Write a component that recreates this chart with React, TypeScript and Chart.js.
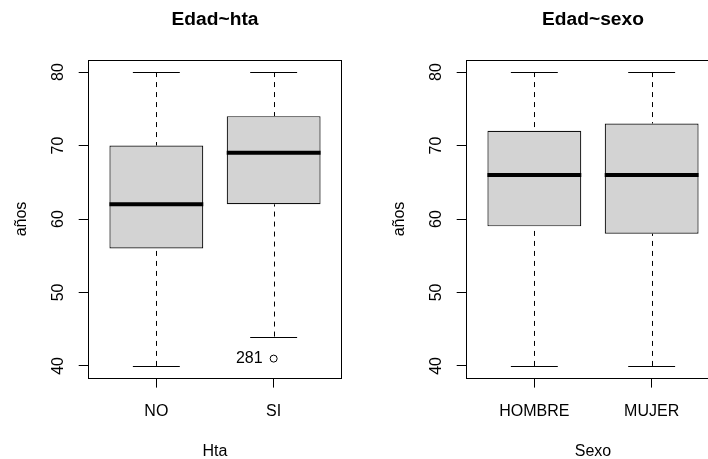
import React, { useEffect, useRef } from 'react';
import { Chart, registerables } from 'chart.js';

Chart.register(...registerables);

const FONT = '"Liberation Sans", Arial, Helvetica, sans-serif';

// ---- Data: Edad ~ hta ----
const htaCategories = ['NO', 'SI'];
const htaLowerWhisker = [40, 44];
const htaQ1 = [56, 62];
const htaMedian = [62, 69];
const htaQ3 = [70, 74];
const htaUpperWhisker = [80, 80];
const htaOutlierGroup = ['SI'];
const htaOutlierValue = [41];
const htaOutlierLabel = ['281'];

// ---- Data: Edad ~ sexo ----
const sexoCategories = ['HOMBRE', 'MUJER'];
const sexoLowerWhisker = [40, 40];
const sexoQ1 = [59, 58];
const sexoMedian = [66, 66];
const sexoQ3 = [72, 73];
const sexoUpperWhisker = [80, 80];
const sexoOutlierGroup: string[] = [];
const sexoOutlierValue: number[] = [];
const sexoOutlierLabel: string[] = [];

// ---- Axis ticks ----
const yTickValues = [40, 50, 60, 70, 80];
const yMin = 38.36;
const yMax = 81.64;

type PanelData = {
  title: string;
  xTitle: string;
  yTitle: string;
  categories: string[];
  lo: number[];
  q1: number[];
  med: number[];
  q3: number[];
  hi: number[];
  outGroup: string[];
  outValue: number[];
  outLabel: string[];
};

const panels: PanelData[] = [
  {
    title: 'Edad~hta', xTitle: 'Hta', yTitle: 'años', categories: htaCategories,
    lo: htaLowerWhisker, q1: htaQ1, med: htaMedian, q3: htaQ3, hi: htaUpperWhisker,
    outGroup: htaOutlierGroup, outValue: htaOutlierValue, outLabel: htaOutlierLabel,
  },
  {
    title: 'Edad~sexo', xTitle: 'Sexo', yTitle: 'años', categories: sexoCategories,
    lo: sexoLowerWhisker, q1: sexoQ1, med: sexoMedian, q3: sexoQ3, hi: sexoUpperWhisker,
    outGroup: sexoOutlierGroup, outValue: sexoOutlierValue, outLabel: sexoOutlierLabel,
  },
];

const BOX_HALF = 0.4;
const CAP_HALF = 0.2;
const PANEL_W = 378;
const PANEL_H = 459;

function BoxPanel({ panel, left }: { panel: PanelData; left: number }) {
  const ref = useRef<HTMLCanvasElement>(null);

  useEffect(() => {
    if (!ref.current) return;
    const n = panel.categories.length;
    const xMin = 0.5 - 0.04 * n;
    const xMax = n + 0.5 + 0.04 * n;
    const positions = panel.categories.map((_, i) => i + 1);

    const boxPlugin = {
      id: 'rBoxplot',
      afterDatasetsDraw(chart: any) {
        const { ctx, chartArea: a, scales } = chart;
        const x = scales.x;
        const y = scales.y;
        ctx.save();
        positions.forEach((p, i) => {
          const cx = Math.round(x.getPixelForValue(p)) + 0.5;
          // whiskers (dashed)
          ctx.strokeStyle = '#000';
          ctx.lineWidth = 1;
          ctx.setLineDash([5, 5]);
          ctx.beginPath();
          ctx.moveTo(cx, y.getPixelForValue(panel.lo[i]));
          ctx.lineTo(cx, y.getPixelForValue(panel.q1[i]));
          ctx.moveTo(cx, y.getPixelForValue(panel.hi[i]));
          ctx.lineTo(cx, y.getPixelForValue(panel.q3[i]));
          ctx.stroke();
          ctx.setLineDash([]);
          // caps
          const c1 = x.getPixelForValue(p - CAP_HALF);
          const c2 = x.getPixelForValue(p + CAP_HALF);
          ctx.beginPath();
          [panel.lo[i], panel.hi[i]].forEach((v) => {
            const py = Math.round(y.getPixelForValue(v)) + 0.5;
            ctx.moveTo(c1, py);
            ctx.lineTo(c2, py);
          });
          ctx.stroke();
          // median
          ctx.lineWidth = 4;
          ctx.lineCap = 'butt';
          ctx.beginPath();
          const my = y.getPixelForValue(panel.med[i]);
          ctx.moveTo(x.getPixelForValue(p - BOX_HALF), my);
          ctx.lineTo(x.getPixelForValue(p + BOX_HALF), my);
          ctx.stroke();
        });
        // outlier labels
        ctx.fillStyle = '#000';
        ctx.font = `16px ${FONT}`;
        ctx.textAlign = 'right';
        ctx.textBaseline = 'alphabetic';
        panel.outGroup.forEach((g, k) => {
          const px = x.getPixelForValue(panel.categories.indexOf(g) + 1);
          const py = y.getPixelForValue(panel.outValue[k]);
          ctx.fillText(panel.outLabel[k], px - 11, py + 4);
        });
        // frame
        ctx.lineWidth = 1;
        ctx.strokeStyle = '#000';
        ctx.strokeRect(Math.round(a.left) + 0.5, Math.round(a.top) + 0.5,
          Math.round(a.right - a.left), Math.round(a.bottom - a.top));
        // titles
        const midX = (a.left + a.right) / 2;
        const midY = (a.top + a.bottom) / 2;
        ctx.textAlign = 'center';
        ctx.font = `bold 19.2px ${FONT}`;
        ctx.fillText(panel.title, midX, a.top - 35);
        ctx.font = `16px ${FONT}`;
        ctx.fillText(panel.xTitle, midX, a.bottom + 78);
        ctx.translate(a.left - 62, midY);
        ctx.rotate(-Math.PI / 2);
        ctx.fillText(panel.yTitle, 0, 0);
        ctx.restore();
      },
    };

    const chart = new Chart(ref.current, {
      type: 'bar',
      data: {
        datasets: [
          {
            type: 'bar',
            data: positions.map((p, i) => ({ x: p, y: [panel.q1[i], panel.q3[i]] })) as any,
            backgroundColor: '#D3D3D3',
            borderColor: '#111',
            borderWidth: 1.2,
            borderSkipped: false,
            barPercentage: BOX_HALF * 2,
            categoryPercentage: 1,
          } as any,
          {
            type: 'scatter',
            data: panel.outGroup.map((g, k) => ({ x: panel.categories.indexOf(g) + 1, y: panel.outValue[k] })),
            pointRadius: 3.5,
            pointBorderWidth: 1,
            borderColor: '#000',
            backgroundColor: 'rgba(0,0,0,0)',
            pointBackgroundColor: 'rgba(0,0,0,0)',
            pointBorderColor: '#000',
          } as any,
        ],
      },
      options: {
        responsive: false,
        animation: false,
        devicePixelRatio: 1,
        events: [],
        layout: { padding: { left: 0, right: 36.3, top: 60, bottom: 0 } },
        plugins: {
          legend: { display: false },
          tooltip: { enabled: false },
          title: { display: false },
        },
        scales: {
          x: {
            type: 'linear',
            min: xMin,
            max: xMax,
            offset: false,
            afterBuildTicks: (s: any) => { s.ticks = positions.map((v) => ({ value: v })); },
            afterFit: (s: any) => { s.height = 81; },
            grid: { offset: false, drawOnChartArea: false, drawTicks: true, tickLength: 9.6, color: '#000', lineWidth: 1 },
            border: { display: false },
            ticks: {
              autoSkip: false, maxRotation: 0, minRotation: 0, padding: 14, color: '#000',
              font: { family: FONT, size: 16 },
              callback: (v: any) => panel.categories[Math.round(Number(v)) - 1] ?? '',
            },
          },
          y: {
            type: 'linear',
            min: yMin,
            max: yMax,
            beginAtZero: false,
            afterBuildTicks: (s: any) => { s.ticks = yTickValues.map((v) => ({ value: v })); },
            afterFit: (s: any) => { s.width = 88.3; },
            grid: { drawOnChartArea: false, drawTicks: true, tickLength: 9.6, color: '#000', lineWidth: 1 },
            border: { display: false },
            ticks: {
              minRotation: 90, maxRotation: 90, crossAlign: 'center', padding: 11.5, color: '#000',
              font: { family: FONT, size: 16 },
              callback: (v: any) => String(v),
            },
          },
        },
      } as any,
      plugins: [boxPlugin],
    });
    return () => chart.destroy();
  }, [panel]);

  return (
    <canvas
      ref={ref}
      width={PANEL_W}
      height={PANEL_H}
      style={{ position: 'absolute', left, top: 0, width: PANEL_W, height: PANEL_H, display: 'block' }}
    />
  );
}

export default function App() {
  useEffect(() => {
    document.body.style.margin = '0';
    document.body.style.overflow = 'hidden';
  }, []);
  return (
    <div style={{ position: 'absolute', left: 0, top: 0, width: 708, height: 459, overflow: 'hidden', background: '#fff' }}>
      <BoxPanel panel={panels[0]} left={0} />
      <BoxPanel panel={panels[1]} left={PANEL_W} />
    </div>
  );
}
